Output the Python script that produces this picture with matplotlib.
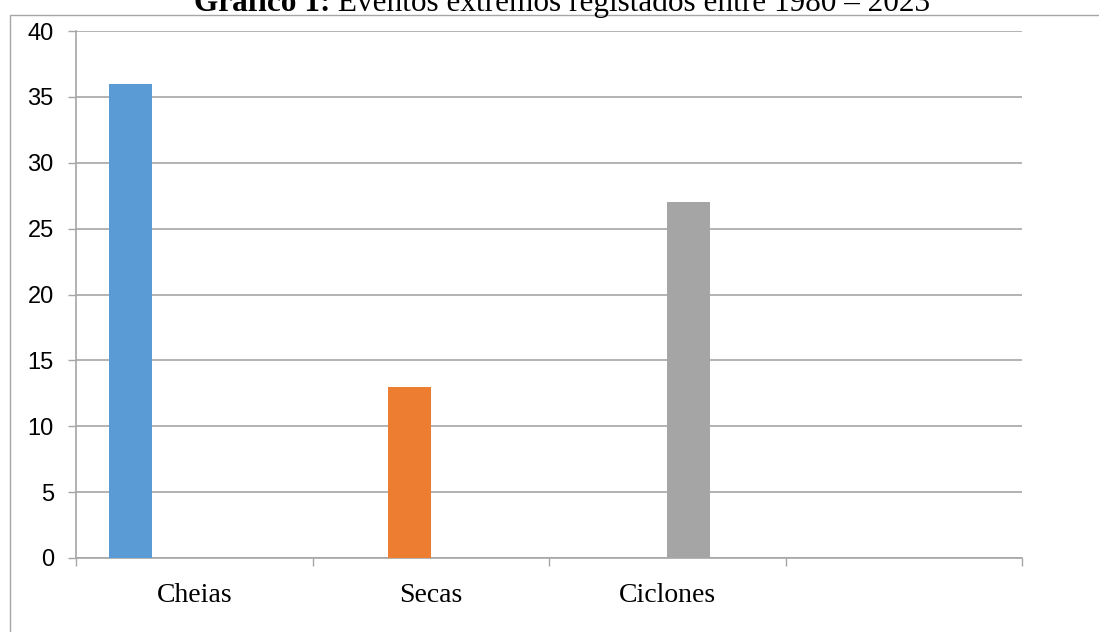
import matplotlib.pyplot as plt
from matplotlib.patches import Rectangle
from matplotlib.offsetbox import TextArea, HPacker, AnchoredOffsetbox

# data
categories = ['Cheias', 'Secas', 'Ciclones', '']
series_values = [
    [36, 0, 0, 0],
    [0, 13, 0, 0],
    [0, 0, 27, 0],
    [0, 0, 0, 0],
]
series_colors = ['#5B9BD5', '#ED7D31', '#A5A5A5', '#FFC000']
y_ticks = [0, 5, 10, 15, 20, 25, 30, 35, 40]
title_bold = 'Gráfico 1:'
title_rest = ' Eventos extremos registados entre 1980 – 2023'

W, H = 1099, 632
fig = plt.figure(figsize=(W / 100, H / 100), dpi=100)
ax = fig.add_axes([76 / W, 1 - 558 / H, 946 / W, 527 / H])

# outer chart frame (cut off at right and bottom)
fig.patches.append(Rectangle((9.5 / W, -0.1), 1.2, 1 - 15 / H + 0.1,
                             transform=fig.transFigure, fill=False,
                             edgecolor='#A6A6A6', linewidth=1.0))

# clustered bars, 4 series per category slot
step = 0.18
for j, vals in enumerate(series_values):
    xs = [i + (j - 1.5) * step for i in range(len(categories))]
    ax.bar(xs, vals, width=step, color=series_colors[j], zorder=3)

ax.set_xlim(-0.5, len(categories) - 0.5)
ax.set_ylim(0, 40)
ax.set_yticks(y_ticks)
ax.set_yticklabels([str(v) for v in y_ticks], fontfamily='Liberation Sans', fontsize=17)
ax.yaxis.grid(True, color='#A6A6A6', linewidth=1.2, zorder=0)

ax.set_xticks(range(len(categories)))
ax.set_xticklabels(categories, fontfamily='Liberation Serif', fontsize=20)
ax.tick_params(axis='x', which='major', length=0, pad=18)
ax.set_xticks([i - 0.5 for i in range(len(categories) + 1)], minor=True)
ax.tick_params(axis='x', which='minor', length=6, color='#A6A6A6', width=1.0, direction='out')
ax.tick_params(axis='y', length=6, color='#A6A6A6', width=1.0, pad=10)

for s in ['top', 'right']:
    ax.spines[s].set_visible(False)
for s in ['left', 'bottom']:
    ax.spines[s].set_color('#A6A6A6')
    ax.spines[s].set_linewidth(1.2)

# title: bold part followed by regular part, centered together
a1 = TextArea(title_bold, textprops=dict(fontfamily='Liberation Serif', fontsize=22.5, fontweight='bold'))
a2 = TextArea(title_rest, textprops=dict(fontfamily='Liberation Serif', fontsize=22.5))
box = HPacker(children=[a1, a2], align='baseline', pad=0, sep=0)
ab = AnchoredOffsetbox(loc='lower center', child=box, pad=0, frameon=False,
                       bbox_to_anchor=(562 / W, 1 - 18 / H), bbox_transform=fig.transFigure,
                       borderpad=0)
fig.add_artist(ab)

fig.savefig('out.png', dpi=100)
